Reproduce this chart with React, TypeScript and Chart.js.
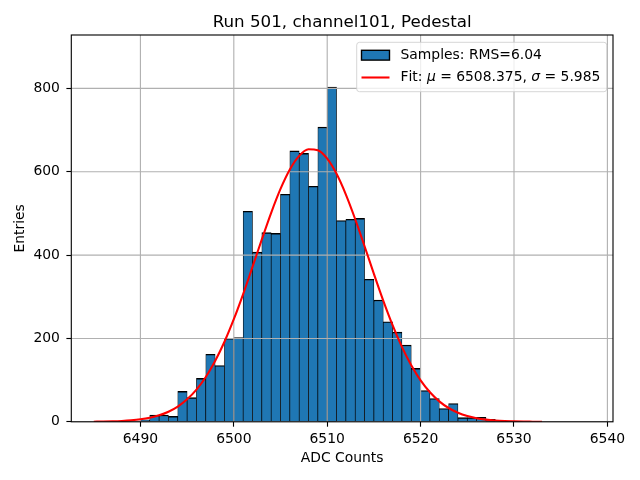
import { useEffect, useRef } from "react";
import { Chart, registerables } from "chart.js";

Chart.register(...registerables);

const TITLE = "Run 501, channel101, Pedestal";
const X_LABEL = "ADC Counts";
const Y_LABEL = "Entries";
const HIST_LABEL = "Samples: RMS=6.04";
const FIT_LABEL = "Fit: μ = 6508.375, σ = 5.985";

// left edges of the 1-count-wide histogram bins
const binLeft = [
  6488, 6489, 6490, 6491, 6492, 6493, 6494, 6495, 6496, 6497, 6498, 6499,
  6500, 6501, 6502, 6503, 6504, 6505, 6506, 6507, 6508, 6509, 6510, 6511,
  6512, 6513, 6514, 6515, 6516, 6517, 6518, 6519, 6520, 6521, 6522, 6523,
  6524, 6525, 6526, 6527, 6528, 6529, 6530,
];
const counts = [
  1, 2, 5, 16, 16, 13, 73, 58, 104, 162, 135, 200,
  202, 505, 407, 454, 452, 546, 650, 644, 565, 707, 803, 483,
  486, 488, 342, 292, 240, 215, 184, 128, 75, 56, 32, 44,
  10, 10, 11, 6, 3, 1, 1,
];

// fitted curve
const fitX = [
  6485, 6486, 6487, 6488, 6489, 6490, 6491, 6492, 6493, 6494, 6495, 6496,
  6497, 6498, 6499, 6500, 6501, 6502, 6503, 6504, 6505, 6506, 6507, 6508,
  6509, 6510, 6511, 6512, 6513, 6514, 6515, 6516, 6517, 6518, 6519, 6520,
  6521, 6522, 6523, 6524, 6525, 6526, 6527, 6528, 6529, 6530, 6531, 6532, 6533,
];
const fitY = [
  0.3, 0.6, 1.1, 2.0, 3.5, 5.9, 9.7, 15.5, 24.2, 36.6, 53.9, 77.2,
  107.6, 145.8, 192.0, 246.1, 306.5, 371.5, 437.6, 501.4, 558.7, 605.4, 638.0, 653.7,
  651.4, 631.3, 594.9, 545.2, 486.0, 421.2, 355.0, 290.9, 231.9, 179.7, 135.5, 99.3,
  70.8, 49.1, 33.1, 21.7, 13.8, 8.6, 5.2, 3.0, 1.7, 1.0, 0.5, 0.3, 0.1,
];

const xTicks = [6490, 6500, 6510, 6520, 6530, 6540];
const yTicks = [0, 200, 400, 600, 800];

const FONT = "'DejaVu Sans', sans-serif";
const BAR_COLOR = "#1f77b4";
const FIT_COLOR = "#ff0000";

const overlay = {
  id: "overlay",
  afterDatasetDraw(chart: any, args: any) {
    if (args.index !== 0) return;
    const { ctx, chartArea: a, scales } = chart;
    ctx.save();
    ctx.beginPath();
    ctx.rect(a.left, a.top, a.right - a.left, a.bottom - a.top);
    ctx.clip();
    ctx.strokeStyle = "#b0b0b0";
    ctx.lineWidth = 1.11;
    for (const t of scales.x.ticks) {
      const px = scales.x.getPixelForValue(t.value);
      ctx.beginPath();
      ctx.moveTo(px, a.top);
      ctx.lineTo(px, a.bottom);
      ctx.stroke();
    }
    for (const t of scales.y.ticks) {
      const py = scales.y.getPixelForValue(t.value);
      ctx.beginPath();
      ctx.moveTo(a.left, py);
      ctx.lineTo(a.right, py);
      ctx.stroke();
    }
    ctx.restore();
  },
  afterDraw(chart: any) {
    const { ctx, chartArea: a } = chart;
    ctx.save();
    // spines
    ctx.strokeStyle = "#000";
    ctx.lineWidth = 1.11;
    ctx.strokeRect(a.left, a.top, a.right - a.left, a.bottom - a.top);

    // title
    ctx.fillStyle = "#000";
    ctx.font = `16.7px ${FONT}`;
    ctx.textAlign = "center";
    ctx.textBaseline = "alphabetic";
    const cx = (a.left + a.right) / 2;
    ctx.fillText(TITLE, cx, 27);

    // axis labels
    ctx.font = `13.9px ${FONT}`;
    ctx.fillText(X_LABEL, cx, 461.5);
    ctx.save();
    ctx.translate(24, (a.top + a.bottom) / 2);
    ctx.rotate(-Math.PI / 2);
    ctx.fillText(Y_LABEL, 0, 0);
    ctx.restore();

    // legend
    const lx = 356.7, ly = 42.3, lw = 250, lh = 49.4, r = 2.8;
    ctx.beginPath();
    ctx.moveTo(lx + r, ly);
    ctx.lineTo(lx + lw - r, ly);
    ctx.arcTo(lx + lw, ly, lx + lw, ly + r, r);
    ctx.lineTo(lx + lw, ly + lh - r);
    ctx.arcTo(lx + lw, ly + lh, lx + lw - r, ly + lh, r);
    ctx.lineTo(lx + r, ly + lh);
    ctx.arcTo(lx, ly + lh, lx, ly + lh - r, r);
    ctx.lineTo(lx, ly + r);
    ctx.arcTo(lx, ly, lx + r, ly, r);
    ctx.closePath();
    ctx.fillStyle = "rgba(255,255,255,0.8)";
    ctx.fill();
    ctx.strokeStyle = "rgba(204,204,204,0.8)";
    ctx.lineWidth = 1;
    ctx.stroke();

    const ds = chart.data.datasets;
    // patch
    ctx.fillStyle = ds[0].backgroundColor;
    ctx.fillRect(361.5, 50.3, 28, 9.8);
    ctx.strokeStyle = "#000";
    ctx.lineWidth = 1.39;
    ctx.strokeRect(361.5, 50.3, 28, 9.8);
    // line
    ctx.strokeStyle = ds[1].borderColor;
    ctx.lineWidth = 2.08;
    ctx.beginPath();
    ctx.moveTo(361.5, 77.5);
    ctx.lineTo(389.5, 77.5);
    ctx.stroke();

    ctx.fillStyle = "#000";
    ctx.textAlign = "left";
    ctx.textBaseline = "middle";
    const drawMixed = (text: string, x: number, y: number) => {
      let px = x;
      for (const ch of Array.from(text)) {
        const greek = /[\u0370-\u03FF]/.test(ch);
        ctx.font = greek ? `italic 13.9px ${FONT}` : `13.9px ${FONT}`;
        ctx.fillText(ch, px, y);
        px += ctx.measureText(ch).width;
      }
    };
    drawMixed(ds[0].label, 400.5, 55.5);
    drawMixed(ds[1].label, 400.5, 77.5);
    ctx.restore();
  },
};

export default function App() {
  const ref = useRef<HTMLCanvasElement | null>(null);
  useEffect(() => {
    if (!ref.current) return;
    const tickFont = { family: "'DejaVu Sans', sans-serif", size: 13.9 };
    const chart = new Chart(ref.current, {
      type: "bar",
      data: {
        datasets: [
          {
            type: "bar",
            label: HIST_LABEL,
            data: binLeft.map((x, i) => ({ x: x + 0.5, y: counts[i] })),
            backgroundColor: BAR_COLOR,
            borderColor: "#000",
            borderWidth: { top: 1.39, left: 0.7, right: 0.7, bottom: 0 },
            borderSkipped: false,
            barPercentage: 1,
            categoryPercentage: 1,
            order: 1,
          } as any,
          {
            type: "line",
            label: FIT_LABEL,
            data: fitX.map((x, i) => ({ x, y: fitY[i] })),
            borderColor: FIT_COLOR,
            backgroundColor: FIT_COLOR,
            borderWidth: 2.08,
            pointRadius: 0,
            cubicInterpolationMode: "monotone",
            fill: false,
            order: 0,
          } as any,
        ],
      },
      options: {
        responsive: false,
        animation: false,
        devicePixelRatio: 1,
        layout: { padding: { left: 0, top: 35, right: 27, bottom: 0 } },
        plugins: {
          legend: { display: false },
          title: { display: false },
          tooltip: { enabled: false },
        },
        scales: {
          x: {
            type: "linear",
            min: 6482.6,
            max: 6540.6,
            offset: false,
            afterFit: (s: any) => {
              s.height = 58.2;
            },
            afterBuildTicks: (s: any) => {
              s.ticks = xTicks.map((v) => ({ value: v }));
            },
            grid: {
              display: true,
              offset: false,
              drawOnChartArea: false,
              drawTicks: true,
              tickLength: 4.9,
              tickColor: "#000",
              tickWidth: 1.11,
            },
            border: { display: false },
            ticks: {
              font: tickFont,
              color: "#000",
              padding: 4.2,
              maxRotation: 0,
              autoSkip: false,
              includeBounds: false,
              callback: (v: any) => String(v),
            },
          },
          y: {
            type: "linear",
            min: 0,
            max: 928,
            afterFit: (s: any) => {
              s.width = 71.3;
            },
            afterBuildTicks: (s: any) => {
              s.ticks = yTicks.map((v) => ({ value: v }));
            },
            grid: {
              display: true,
              offset: false,
              drawOnChartArea: false,
              drawTicks: true,
              tickLength: 4.9,
              tickColor: "#000",
              tickWidth: 1.11,
            },
            border: { display: false },
            ticks: {
              font: tickFont,
              color: "#000",
              padding: 6.5,
              autoSkip: false,
              includeBounds: false,
              callback: (v: any) => String(v),
            },
          },
        },
      } as any,
      plugins: [overlay],
    });
    return () => chart.destroy();
  }, []);
  return (
    <div style={{ position: "fixed", left: 0, top: 0, width: 640, height: 480, background: "#fff" }}>
      <canvas ref={ref} width={640} height={480} style={{ width: 640, height: 480, display: "block" }} />
    </div>
  );
}
